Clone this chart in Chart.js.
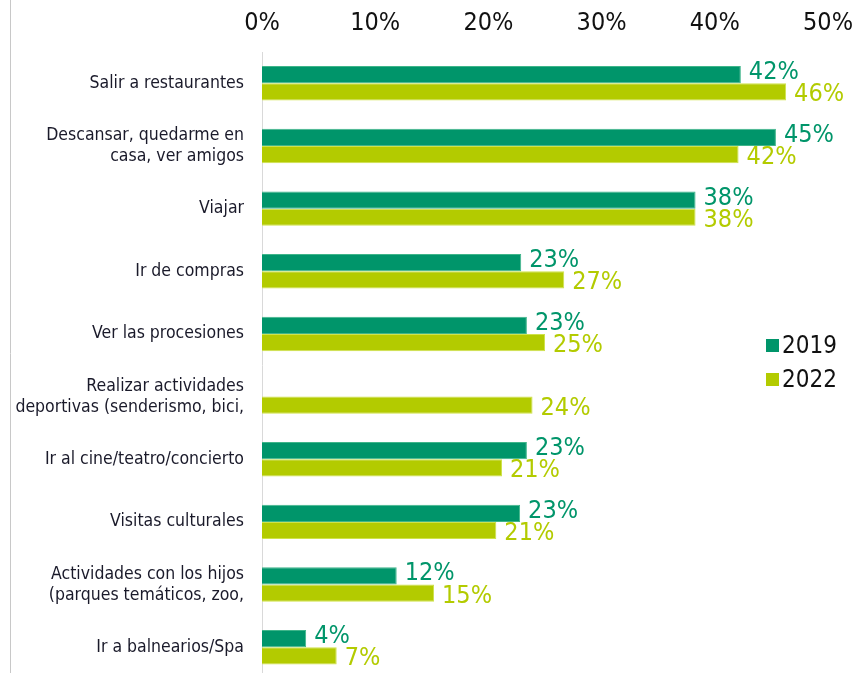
<!DOCTYPE html>
<html>
<head>
<meta charset="utf-8">
<script src="https://cdn.jsdelivr.net/npm/chart.js@4/dist/chart.umd.min.js"></script>
<style>
    html, body { margin: 0; padding: 0; background: #fff; overflow: hidden; }
    #wrap { width: 867px; height: 707px; position: relative; }
</style>
</head>
<body>
<div id="wrap"><canvas id="chart"></canvas></div>
<script>
// Data
const categories = [
    'Salir a restaurantes',
    ['Descansar, quedarme en', 'casa, ver amigos'],
    'Viajar',
    'Ir de compras',
    'Ver las procesiones',
    ['Realizar actividades', 'deportivas (senderismo, bici,'],
    'Ir al cine/teatro/concierto',
    'Visitas culturales',
    ['Actividades con los hijos', '(parques temáticos, zoo,'],
    'Ir a balnearios/Spa'
];
const values2019 = [42.3, 45.4, 38.3, 22.9, 23.4, null, 23.4, 22.8, 11.9, 3.9];
const values2022 = [46.3, 42.1, 38.3, 26.7, 25.0, 23.9, 21.2, 20.7, 15.2, 6.6];
const seriesNames = ['2019', '2022'];
const xTicks = [0, 10, 20, 30, 40, 50];

const COLOR_2019 = '#00956a';
const COLOR_2022 = '#b3cb00';
const FONT = '"Liberation Sans Narrow", "DejaVu Sans Condensed", sans-serif';

// value labels at the end of each bar
const valueLabels = {
    id: 'valueLabels',
    afterDatasetsDraw(chart) {
        const ctx = chart.ctx;
        ctx.save();
        ctx.font = '25px ' + FONT;
        ctx.textAlign = 'left';
        ctx.textBaseline = 'middle';
        chart.data.datasets.forEach((ds, di) => {
            const meta = chart.getDatasetMeta(di);
            meta.data.forEach((bar, i) => {
                const v = ds.data[i];
                if (v === null || v === undefined) return;
                ctx.fillStyle = ds.backgroundColor;
                const dy = di === 0 ? -2 : 3;
                ctx.fillText(Math.round(v) + '%', bar.x + 8, bar.y + dy);
            });
        });
        ctx.restore();
    }
};

// legend inside the plot, plus the thin frame line on the left
const sideLegend = {
    id: 'sideLegend',
    afterDraw(chart) {
        const ctx = chart.ctx;
        ctx.save();
        ctx.strokeStyle = '#c8c8c8';
        ctx.lineWidth = 1;
        ctx.beginPath();
        ctx.moveTo(10.5, 0);
        ctx.lineTo(10.5, chart.height);
        ctx.stroke();

        ctx.font = '24px ' + FONT;
        ctx.textAlign = 'left';
        ctx.textBaseline = 'middle';
        chart.data.datasets.forEach((ds, di) => {
            const y = 346 + di * 34;
            ctx.fillStyle = ds.backgroundColor;
            ctx.fillRect(766, y - 7, 13, 13);
            ctx.fillStyle = '#111';
            ctx.fillText(ds.label, 782, y + 1);
        });
        ctx.restore();
    }
};

new Chart(document.getElementById('chart'), {
    type: 'bar',
    data: {
        labels: categories,
        datasets: [{
            label: seriesNames[0],
            data: values2019,
            backgroundColor: COLOR_2019,
            borderColor: '#3fb58a',
            borderWidth: 1
        }, {
            label: seriesNames[1],
            data: values2022,
            backgroundColor: COLOR_2022,
            borderColor: '#cfe24a',
            borderWidth: 1
        }]
    },
    options: {
        indexAxis: 'y',
        responsive: true,
        maintainAspectRatio: false,
        animation: false,
        categoryPercentage: 0.55,
        barPercentage: 1.0,
        layout: { padding: { left: 0, right: 31, top: 0, bottom: 0 } },
        scales: {
            x: {
                position: 'top',
                min: 0,
                max: 50,
                afterBuildTicks: (scale) => {
                    scale.ticks = xTicks.map(v => ({ value: v }));
                },
                afterFit: (scale) => { scale.height = 52; },
                grid: { display: false, drawTicks: false },
                border: { display: false },
                ticks: {
                    padding: 14,
                    color: '#111',
                    font: { family: FONT, size: 25 },
                    callback: (v) => v + '%'
                }
            },
            y: {
                afterFit: (scale) => { scale.width = 262; },
                grid: { display: false, drawTicks: false },
                border: { display: true, color: '#d9d9d9', width: 1 },
                ticks: {
                    padding: 18,
                    color: '#1a1a2a',
                    font: { family: FONT, size: 17.5 }
                }
            }
        },
        plugins: {
            legend: { display: false },
            tooltip: { enabled: false }
        }
    },
    plugins: [valueLabels, sideLegend]
});
</script>
</body>
</html>
